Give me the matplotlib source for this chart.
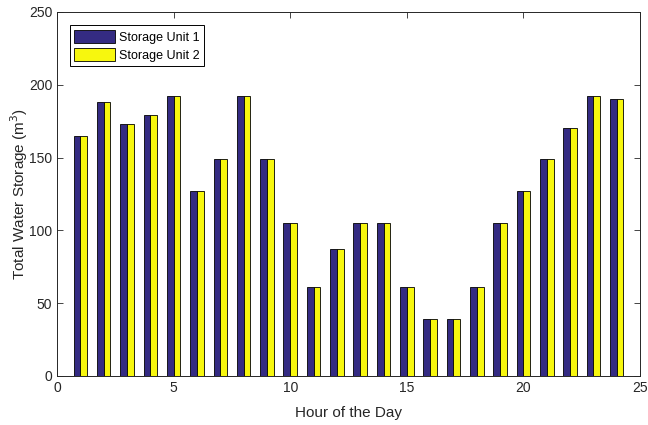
import numpy as np
import matplotlib
matplotlib.use("Agg")
import matplotlib.pyplot as plt

plt.rcParams['font.family'] = ['Liberation Sans', 'DejaVu Sans']

# Hourly storage levels (m^3) for the two units
hours = np.arange(1, 25)
unit1 = [165, 188, 173, 179, 192, 127, 149, 192, 149, 105, 61, 87,
         105, 105, 61, 39, 39, 61, 105, 127, 149, 170, 192, 190]
unit2 = [165, 188, 173, 179, 192, 127, 149, 192, 149, 105, 61, 87,
         105, 105, 61, 39, 39, 61, 105, 127, 149, 170, 192, 190]
series_names = ["Storage Unit 1", "Storage Unit 2"]

fig = plt.figure(figsize=(6.48, 4.25), dpi=100)
ax = fig.add_axes([0.088, 0.1153, 0.8997, 0.8565])

w = 0.29
ax.bar(hours - w / 2, unit1, width=w, color='#342b82', edgecolor='black',
       linewidth=0.6, label=series_names[0], zorder=2)
ax.bar(hours + w / 2, unit2, width=w, color='#f7f70e', edgecolor='black',
       linewidth=0.6, label=series_names[1], zorder=2)

ax.set_xlim(0, 25)
ax.set_ylim(0, 250)
ax.set_xticks(np.arange(0, 26, 5))
ax.set_yticks(np.arange(0, 251, 50))
ax.tick_params(direction='in', top=True, right=True, labelsize=10,
               length=4, width=0.6, colors='#262626')
for s in ax.spines.values():
    s.set_linewidth(0.7)
    s.set_color('#262626')

ax.set_xlabel("Hour of the Day", fontsize=11, color='#262626', labelpad=8)
ax.set_ylabel("Total Water Storage (m$^3$)", fontsize=11, color='#262626',
              labelpad=-1)

leg = ax.legend(loc='upper left', bbox_to_anchor=(0.022, 0.963),
                fontsize=9, handlelength=3.3, handleheight=1.3,
                handletextpad=0.3, labelspacing=0.3, borderpad=0.35,
                fancybox=False, framealpha=1, edgecolor='black',
                borderaxespad=0)
leg.get_frame().set_linewidth(0.7)

fig.savefig("out.png", dpi=100)
